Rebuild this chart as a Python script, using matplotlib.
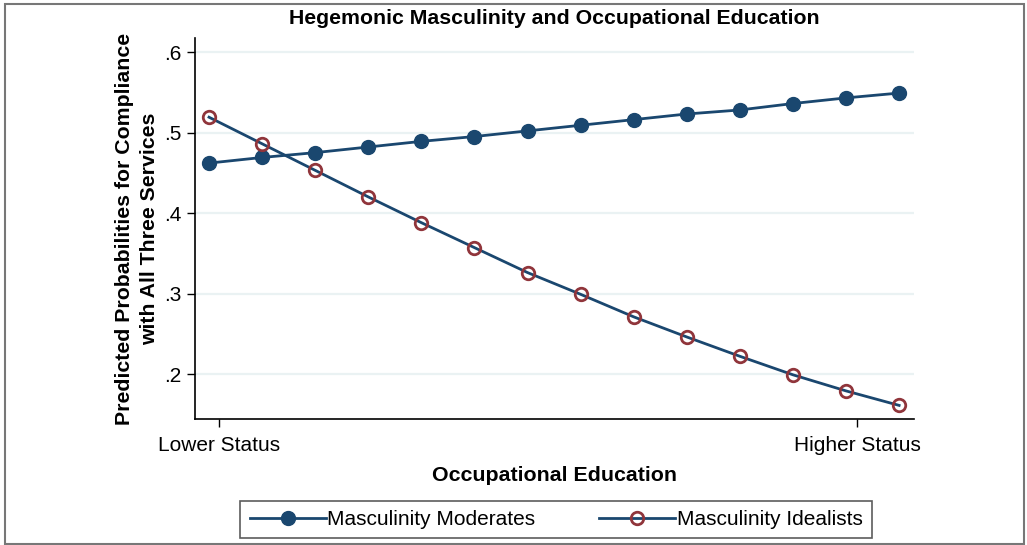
import matplotlib
matplotlib.use("Agg")
import matplotlib.pyplot as plt
from matplotlib.patches import Rectangle
import numpy as np

# ---- data ----
education_steps = list(range(14))
moderates = [0.462, 0.469, 0.475, 0.482, 0.489, 0.495, 0.502, 0.509, 0.516, 0.523,
             0.528, 0.536, 0.543, 0.549]
idealists = [0.519, 0.486, 0.453, 0.420, 0.388, 0.357, 0.326, 0.299, 0.271, 0.246,
             0.222, 0.199, 0.179, 0.161]
xtick_pos = [0.19, 12.21]
xtick_labels = ["Lower Status", "Higher Status"]
ytick_vals = [0.2, 0.3, 0.4, 0.5, 0.6]
ytick_labels = [".2", ".3", ".4", ".5", ".6"]

plt.rcParams['font.family'] = ['Liberation Sans', 'DejaVu Sans']

navy = "#1a476f"
maroon = "#90353b"
grid_c = "#eaf2f3"

fig = plt.figure(figsize=(10.27, 5.45), dpi=100)
ax = fig.add_axes([195/1027, 1-419/545, (914-195)/1027, (419-38)/545])

for v in ytick_vals:
    ax.axhline(v, color=grid_c, lw=1.6, zorder=0)

ax.plot(education_steps, moderates, color=navy, lw=2, marker='o', ms=10,
        mfc=navy, mec=navy, label="Masculinity Moderates", zorder=3)
ax.plot(education_steps, idealists, color=navy, lw=2, marker='o', ms=9,
        mfc='none', mec=maroon, mew=2, label="Masculinity Idealists", zorder=3)

ax.set_xlim(-0.264, 13.28)
ax.set_ylim(0.1441, 0.6174)
ax.set_yticks(ytick_vals)
ax.set_yticklabels(ytick_labels)
ax.set_xticks(xtick_pos)
ax.set_xticklabels(xtick_labels)
ax.tick_params(axis='both', labelsize=15, length=6, width=1, color='black', pad=4)
ax.tick_params(axis='x', pad=6)
for s in ['top', 'right']:
    ax.spines[s].set_visible(False)
for s in ['left', 'bottom']:
    ax.spines[s].set_linewidth(1.2)

ax.set_xlabel("Occupational Education", fontsize=15.4, fontweight='bold', labelpad=8)
ax.set_ylabel("Predicted Probabilities for Compliance\nwith All Three Services",
              fontsize=15.3, fontweight='bold', linespacing=1.4, va='center')
ax.yaxis.set_label_coords(-0.08, 0.5)
fig.text(554/1027, 1-19/545, "Hegemonic Masculinity and Occupational Education",
         ha='center', va='center', fontsize=15.3, fontweight='bold')

leg = ax.legend(loc='center', bbox_to_anchor=(556/1027, 1-519.5/545),
                bbox_transform=fig.transFigure, ncol=2, fontsize=15,
                handlelength=3.65, handletextpad=0.05, columnspacing=3.1,
                frameon=True, fancybox=False, borderpad=0.45, borderaxespad=0)
leg.get_frame().set_edgecolor('#333333')
leg.get_frame().set_linewidth(1.2)

fig.patches.append(Rectangle((5/1027, 1/545), 1019/1027, 540/545, transform=fig.transFigure,
                             fill=False, edgecolor='#777777', lw=1.5))

fig.savefig("out.png", dpi=100)
